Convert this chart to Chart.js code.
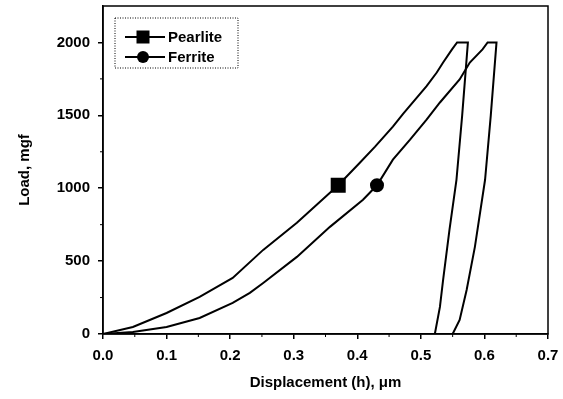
<!DOCTYPE html>
<html>
<head>
<meta charset="utf-8">
<script src="https://cdn.jsdelivr.net/npm/chart.js@4"></script>
<style>
  html, body { margin: 0; padding: 0; background: #fff; }
  #wrap { width: 563px; height: 399px; }
</style>
</head>
<body>
<div id="wrap"><canvas id="c"></canvas></div>
<script>
// values (displacement in um, load in mgf)
const pearliteX = [0, 0.047, 0.1, 0.152, 0.204, 0.252, 0.305, 0.357, 0.37, 0.404, 0.428, 0.456, 0.472, 0.509, 0.525, 0.535, 0.549, 0.557, 0.574, 0.565, 0.556, 0.545, 0.535, 0.53, 0.522];
const pearliteY = [0, 48, 144, 254, 385, 577, 763, 969, 1020, 1175, 1285, 1423, 1510, 1700, 1794, 1862, 1952, 2000, 2000, 1500, 1058, 715, 371, 186, 0];
const ferriteX = [0, 0.047, 0.1, 0.152, 0.204, 0.231, 0.252, 0.305, 0.357, 0.409, 0.431, 0.456, 0.483, 0.509, 0.53, 0.561, 0.577, 0.597, 0.605, 0.619, 0.61, 0.601, 0.585, 0.572, 0.561, 0.55];
const ferriteY = [0, 14, 48, 110, 213, 282, 350, 529, 735, 921, 1020, 1196, 1333, 1471, 1588, 1746, 1862, 1952, 2000, 2000, 1500, 1058, 598, 302, 96, 0];
const pearliteMarker = 8;   // index of the square marker
const ferriteMarker = 10;   // index of the circle marker

const xTicks = [0, 0.1, 0.2, 0.3, 0.4, 0.5, 0.6, 0.7];
const yTicks = [0, 500, 1000, 1500, 2000];

const toPoints = (xs, ys) => xs.map((x, i) => ({ x: x, y: ys[i] }));

// frame, minor ticks and the dotted legend box inside the plot
const extras = {
  id: 'extras',
  afterDraw(chart) {
    const ctx = chart.ctx;
    const a = chart.chartArea;
    const xs = chart.scales.x, ys = chart.scales.y;
    ctx.save();
    ctx.strokeStyle = '#000';
    ctx.lineWidth = 1.5;
    ctx.strokeRect(a.left, a.top, a.right - a.left, a.bottom - a.top);

    // minor ticks
    ctx.lineWidth = 1;
    ctx.beginPath();
    for (let v = 0.05; v < 0.7; v += 0.1) {
      const px = xs.getPixelForValue(v);
      ctx.moveTo(px, a.bottom);
      ctx.lineTo(px, a.bottom + 3);
    }
    for (let v = 250; v < 2250; v += 500) {
      const py = ys.getPixelForValue(v);
      ctx.moveTo(a.left, py);
      ctx.lineTo(a.left - 3, py);
    }
    ctx.stroke();

    // legend
    const lx = a.left + 12, ly = a.top + 12, lw = 123, lh = 50;
    ctx.setLineDash([1, 1.5]);
    ctx.strokeRect(lx, ly, lw, lh);
    ctx.setLineDash([]);
    chart.data.datasets.forEach((ds, i) => {
      const rowY = ly + 19 + i * 20;
      ctx.lineWidth = 2;
      ctx.beginPath();
      ctx.moveTo(lx + 10, rowY);
      ctx.lineTo(lx + 50, rowY);
      ctx.stroke();
      ctx.fillStyle = '#000';
      const mx = lx + 28;
      if (ds.pointStyle === 'rect') {
        ctx.fillRect(mx - 6.5, rowY - 6.5, 13, 13);
      } else {
        ctx.beginPath();
        ctx.arc(mx, rowY, 6, 0, Math.PI * 2);
        ctx.fill();
      }
      ctx.font = 'bold 15px "Liberation Sans", Arial, sans-serif';
      ctx.textBaseline = 'middle';
      ctx.textAlign = 'left';
      ctx.fillText(ds.label, lx + 53, rowY + 1);
    });
    ctx.restore();
  }
};

const tickFont = { family: '"Liberation Sans", Arial, sans-serif', size: 15, weight: 'bold' };

new Chart(document.getElementById('c'), {
  type: 'scatter',
  data: {
    datasets: [{
      label: 'Pearlite',
      data: toPoints(pearliteX, pearliteY),
      showLine: true,
      borderColor: '#000',
      backgroundColor: '#000',
      borderWidth: 2,
      tension: 0,
      pointStyle: 'rect',
      pointRadius: ctx => ctx.dataIndex === pearliteMarker ? 9.2 : 0,
      pointHoverRadius: 0
    }, {
      label: 'Ferrite',
      data: toPoints(ferriteX, ferriteY),
      showLine: true,
      borderColor: '#000',
      backgroundColor: '#000',
      borderWidth: 2,
      tension: 0,
      pointStyle: 'circle',
      pointRadius: ctx => ctx.dataIndex === ferriteMarker ? 6 : 0,
      pointHoverRadius: 0
    }]
  },
  options: {
    responsive: true,
    maintainAspectRatio: false,
    animation: false,
    layout: { padding: { top: 6, right: 15, left: 0, bottom: 0 } },
    plugins: { legend: { display: false }, tooltip: { enabled: false } },
    scales: {
      x: {
        type: 'linear',
        min: 0,
        max: 0.7,
        afterBuildTicks: s => { s.ticks = xTicks.map(v => ({ value: v })); },
        afterFit: s => { s.height = 65; s.paddingLeft = 0; s.paddingRight = 0; },
        ticks: { color: '#000', font: tickFont, padding: 8, maxRotation: 0,
                 callback: v => v.toFixed(1) },
        grid: { drawOnChartArea: false, tickLength: 5, color: '#000', lineWidth: 1.5 },
        border: { color: '#000', width: 1.5 },
        title: { display: true, text: 'Displacement (h), μm', color: '#000',
                 font: tickFont, padding: { top: 0, bottom: 7 } }
      },
      y: {
        min: 0,
        max: 2250,
        afterBuildTicks: s => { s.ticks = yTicks.map(v => ({ value: v })); },
        afterFit: s => { s.width = 103; s.paddingTop = 0; s.paddingBottom = 0; },
        ticks: { color: '#000', font: tickFont, padding: 8, callback: v => String(v) },
        grid: { drawOnChartArea: false, tickLength: 5, color: '#000', lineWidth: 1.5 },
        border: { color: '#000', width: 1.5 },
        title: { display: true, text: 'Load, mgf', color: '#000',
                 font: tickFont, padding: { top: 16, bottom: 0 } }
      }
    }
  },
  plugins: [extras]
});
</script>
</body>
</html>
